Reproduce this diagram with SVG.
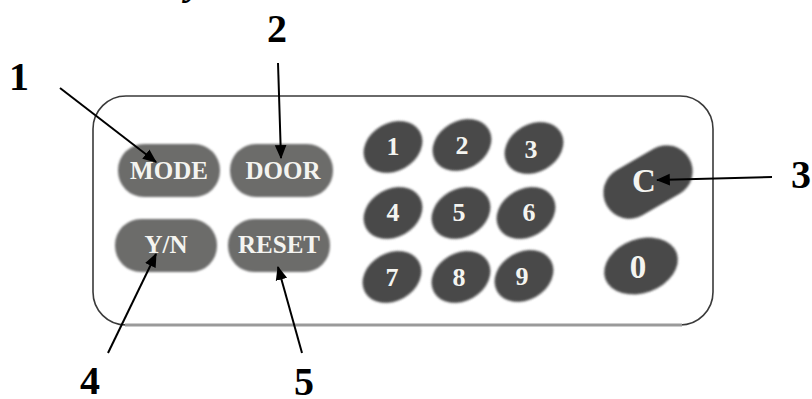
<svg xmlns="http://www.w3.org/2000/svg" width="812" height="399" viewBox="0 0 812 399">
<defs>
<style>
.lbl{font-family:"Liberation Serif","Times New Roman",serif;font-weight:bold;font-size:40px;fill:#000;text-anchor:middle}
.btxt{font-family:"Liberation Serif","Times New Roman",serif;font-weight:bold;font-size:25px;fill:#f4f4f0;text-anchor:middle}
.ktxt{font-family:"Liberation Serif","Times New Roman",serif;font-weight:bold;font-size:26px;fill:#f4f4f0;text-anchor:middle}
.big{font-size:33px}
.pill{fill:#6c6c6a;filter:url(#soft)}
.key{fill:#4a4a4a;filter:url(#soft)}
.arr{stroke:#000;stroke-width:2;fill:none;marker-end:url(#ah)}
</style>
<filter id="soft" x="-10%" y="-10%" width="120%" height="120%"><feGaussianBlur stdDeviation="0.9"/></filter>
<marker id="ah" viewBox="0 0 12 10" refX="11" refY="5" markerWidth="7" markerHeight="7.5" markerUnits="strokeWidth" orient="auto"><path d="M0,0 L12,5 L0,10 z" fill="#000"/></marker>
</defs>
<rect width="812" height="399" fill="#fff"/>
<text x="186" y="-6" style="font-family:'Liberation Serif',serif;font-weight:bold;font-style:italic;font-size:40px">y</text>
<g id="panel">
<rect x="93" y="96" width="620" height="229" rx="33" ry="33" fill="#fff" stroke="#3a3a3a" stroke-width="1.6"/>
<line x1="125" y1="325" x2="682" y2="325" stroke="#9a9a9a" stroke-width="3"/>
</g>
<g id="btn-mode"><rect class="pill" x="118" y="144" width="102" height="53" rx="26"/><text class="btxt" x="169" y="179">MODE</text></g>
<g id="btn-door"><rect class="pill" x="230" y="144" width="103" height="53" rx="26"/><text class="btxt" x="283" y="179">DOOR</text></g>
<g id="btn-yn"><rect class="pill" x="115" y="219" width="102" height="53" rx="26"/><text class="btxt" x="166" y="253">Y/N</text></g>
<g id="btn-reset"><rect class="pill" x="228" y="219" width="102" height="53" rx="26"/><text class="btxt" x="279" y="253">RESET</text></g>
<g id="key-1"><ellipse class="key" cx="0" cy="0" rx="31" ry="24" transform="translate(393,147) rotate(-30)"/><text class="ktxt" x="393" y="155">1</text></g>
<g id="key-2"><ellipse class="key" cx="0" cy="0" rx="31" ry="24" transform="translate(462,145) rotate(-30)"/><text class="ktxt" x="462" y="154">2</text></g>
<g id="key-3"><ellipse class="key" cx="0" cy="0" rx="31" ry="24" transform="translate(534,148) rotate(-30)"/><text class="ktxt" x="531" y="158">3</text></g>
<g id="key-4"><ellipse class="key" cx="0" cy="0" rx="31" ry="24" transform="translate(393,213) rotate(-30)"/><text class="ktxt" x="393" y="221">4</text></g>
<g id="key-5"><ellipse class="key" cx="0" cy="0" rx="31" ry="24" transform="translate(461,213) rotate(-30)"/><text class="ktxt" x="459" y="221">5</text></g>
<g id="key-6"><ellipse class="key" cx="0" cy="0" rx="31" ry="24" transform="translate(526,213) rotate(-30)"/><text class="ktxt" x="529" y="221">6</text></g>
<g id="key-7"><ellipse class="key" cx="0" cy="0" rx="31" ry="24" transform="translate(392,277) rotate(-30)"/><text class="ktxt" x="392" y="286">7</text></g>
<g id="key-8"><ellipse class="key" cx="0" cy="0" rx="31" ry="24" transform="translate(461,277) rotate(-30)"/><text class="ktxt" x="459" y="286">8</text></g>
<g id="key-9"><ellipse class="key" cx="0" cy="0" rx="31" ry="24" transform="translate(524,276) rotate(-30)"/><text class="ktxt" x="522" y="285">9</text></g>
<g id="key-c"><rect class="key" x="-47.5" y="-26" width="95" height="52" rx="26" transform="translate(648,182) rotate(-30)"/><text class="ktxt big" x="644" y="192">C</text></g>
<g id="key-0"><ellipse class="key" cx="0" cy="0" rx="38" ry="27" transform="translate(641,266) rotate(-20)"/><text class="ktxt big" x="638" y="278">0</text></g>
<g id="connectors">
<line class="arr" x1="60" y1="88" x2="156" y2="162"/>
<line class="arr" x1="278" y1="63" x2="281" y2="158"/>
<line class="arr" x1="772" y1="177" x2="657" y2="180"/>
<line class="arr" x1="108" y1="353" x2="156" y2="254"/>
<line class="arr" x1="302" y1="353" x2="278" y2="267"/>
</g>
<g id="labels">
<text class="lbl" x="19" y="90">1</text>
<text class="lbl" x="277" y="42">2</text>
<text class="lbl" x="801" y="188">3</text>
<text class="lbl" x="90" y="394">4</text>
<text class="lbl" x="304" y="395">5</text>
</g>
</svg>
